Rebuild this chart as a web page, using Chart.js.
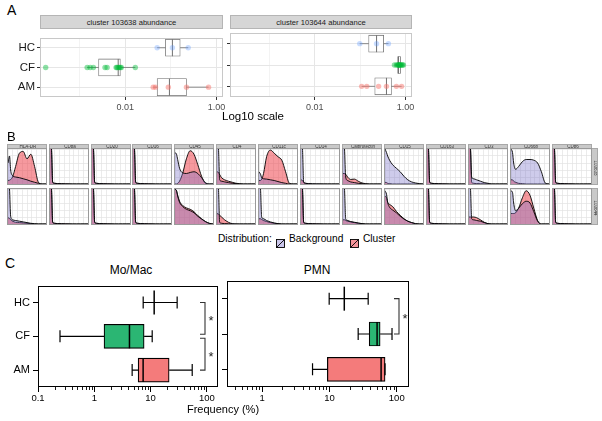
<!DOCTYPE html>
<html><head><meta charset="utf-8">
<script src="https://cdn.jsdelivr.net/npm/chart.js@4.4.0/dist/chart.umd.min.js"></script>
<style>
html,body{margin:0;padding:0;}
body{width:602px;height:421px;background:#fff;position:relative;overflow:hidden;font-family:"Liberation Sans",Arial,Helvetica,sans-serif;}
canvas{display:block;}
</style></head><body>
<script>
// ---------------- DATA ----------------
const groups = ['HC', 'CF', 'AM'];

// Panel A (abundance, log10 scale)
const aStripTitles = ['cluster 103638 abundance', 'cluster 103644 abundance'];
const aTickValues = [0.01, 1];
const aTickLabels = ['0.01', '1.00'];
const aMinorGrid = [0.001, 0.1];
const a1HC = [0.05, 0.108, 0.24];
const a1CF = [0.00018, 0.00146, 0.0017, 0.0020, 0.0036, 0.0040, 0.0063, 0.0066, 0.0070, 0.0074, 0.0078, 0.0082, 0.0166];
const a1AM = [0.041, 0.046, 0.088, 0.22, 0.67];
const a1Stats = [[0.05, 0.076, 0.108, 0.16, 0.24], [0.00146, 0.0026, 0.0070, 0.0078, 0.0166], [0.041, 0.05, 0.093, 0.22, 0.67]];
const a2HC = [0.098, 0.23, 0.42];
const a2CF = [0.57, 0.63, 0.67, 0.70, 0.72, 0.74, 0.76, 0.78, 0.82, 0.86, 0.9];
const a2AM = [0.108, 0.14, 0.255, 0.38, 0.63, 0.82];
const a2Stats = [[0.098, 0.154, 0.23, 0.33, 0.42], [0.57, 0.67, 0.70, 0.78, 0.9], [0.108, 0.21, 0.38, 0.49, 0.82]];

// Panel B (marker densities)
const bMarkers = ['HLA-DR', 'CD8a', 'CD20', 'CD16', 'CD45', 'CD4', 'CD11c', 'CD14', 'Calprotectin', 'CD15', 'CD163', 'CD3', 'CD66b', 'CD86'];
const bRows = ['103638', '103644'];
const bGrid = [0, 0.04, 0.07, 0.12, 0.2, 0.3, 0.4, 0.5, 0.6, 0.7, 0.8, 0.9, 1];
const SPIKE = [1.3, 1.0, 0.05, 0.02, 0.012, 0.008, 0.004, 0.002, 0, 0, 0, 0, 0];
const b1Bg = [
  [0.6, 0.8, 0.4, 0.24, 0.2, 0.18, 0.15, 0.12, 0.08, 0.05, 0.02, 0, 0],
  SPIKE, SPIKE, SPIKE,
  [0.9, 0.85, 0.7, 0.45, 0.32, 0.3, 0.33, 0.35, 0.3, 0.18, 0.04, 0, 0],
  [1.3, 1.0, 0.12, 0.08, 0.06, 0.04, 0.02, 0.01, 0, 0, 0, 0, 0],
  [0.35, 0.28, 0.18, 0.15, 0.14, 0.12, 0.1, 0.07, 0.04, 0.02, 0, 0, 0],
  SPIKE,
  [1.3, 1.0, 0.2, 0.1, 0.06, 0.04, 0.02, 0.01, 0, 0, 0, 0, 0],
  [1.0, 0.9, 0.8, 0.68, 0.55, 0.45, 0.35, 0.22, 0.12, 0.06, 0.03, 0.01, 0],
  SPIKE,
  [1.3, 1.0, 0.2, 0.15, 0.12, 0.08, 0.04, 0.02, 0, 0, 0, 0, 0],
  [1.0, 0.9, 0.6, 0.42, 0.5, 0.64, 0.7, 0.7, 0.68, 0.6, 0.35, 0.03, 0],
  SPIKE];
const b1Cl = [
  [0.1, 0.11, 0.13, 0.2, 0.5, 0.88, 0.93, 0.72, 0.85, 0.5, 0.05, 0, 0],
  SPIKE, SPIKE, SPIKE,
  [0, 0, 0.02, 0.08, 0.3, 0.72, 0.95, 0.85, 0.55, 0.22, 0.02, 0, 0],
  [0.35, 0.33, 0.27, 0.18, 0.12, 0.08, 0.05, 0.02, 0.01, 0, 0, 0, 0],
  [0.1, 0.1, 0.14, 0.3, 0.78, 0.97, 0.88, 0.78, 0.68, 0.35, 0.02, 0, 0],
  [0.12, 0.1, 0.05, 0.02, 0.01, 0, 0, 0, 0, 0, 0, 0, 0],
  [0.3, 0.3, 0.28, 0.2, 0.13, 0.14, 0.08, 0.03, 0.01, 0, 0, 0, 0],
  [0.05, 0.04, 0.02, 0.01, 0, 0, 0, 0, 0, 0, 0, 0, 0],
  SPIKE, SPIKE,
  [0.12, 0.12, 0.08, 0.05, 0.02, 0.01, 0, 0, 0, 0, 0, 0, 0],
  SPIKE];
const b2Bg = [
  [1.3, 1.0, 0.22, 0.12, 0.1, 0.08, 0.06, 0.04, 0.02, 0.01, 0, 0, 0],
  SPIKE, SPIKE, SPIKE,
  [1.0, 0.95, 0.8, 0.62, 0.5, 0.42, 0.38, 0.32, 0.22, 0.14, 0.07, 0.02, 0],
  SPIKE,
  [1.3, 1.0, 0.2, 0.15, 0.1, 0.06, 0.03, 0.01, 0, 0, 0, 0, 0],
  SPIKE,
  [1.3, 1.0, 0.15, 0.1, 0.07, 0.05, 0.03, 0.01, 0, 0, 0, 0, 0],
  [0.95, 0.85, 0.62, 0.48, 0.4, 0.32, 0.22, 0.14, 0.08, 0.04, 0.01, 0, 0],
  SPIKE,
  [1.3, 1.0, 0.15, 0.12, 0.1, 0.08, 0.04, 0.01, 0, 0, 0, 0, 0],
  [0.95, 0.9, 0.6, 0.38, 0.45, 0.58, 0.65, 0.6, 0.35, 0.08, 0, 0, 0],
  SPIKE];
const b2Cl = [
  [0.18, 0.16, 0.12, 0.08, 0.05, 0.04, 0.03, 0.02, 0.01, 0, 0, 0, 0],
  SPIKE, SPIKE, SPIKE,
  [1.0, 0.95, 0.82, 0.65, 0.53, 0.46, 0.42, 0.35, 0.24, 0.15, 0.07, 0.02, 0],
  [0.3, 0.28, 0.25, 0.2, 0.12, 0.05, 0.01, 0, 0, 0, 0, 0, 0],
  [0.15, 0.15, 0.13, 0.1, 0.07, 0.04, 0.02, 0.01, 0, 0, 0, 0, 0],
  SPIKE,
  [0.12, 0.12, 0.1, 0.08, 0.06, 0.04, 0.02, 0.01, 0, 0, 0, 0, 0],
  [0.8, 0.75, 0.62, 0.56, 0.5, 0.36, 0.25, 0.15, 0.08, 0.04, 0.01, 0, 0],
  SPIKE,
  [0.2, 0.2, 0.2, 0.2, 0.18, 0.12, 0.05, 0.01, 0, 0, 0, 0, 0],
  [0.3, 0.3, 0.3, 0.32, 0.45, 0.75, 0.95, 0.82, 0.45, 0.1, 0, 0, 0],
  SPIKE];
const bLegend = ['Background', 'Cluster'];

// Panel C (frequency %, boxplots: [min, q1, median, q3, max])
const cTitles = ['Mo/Mac', 'PMN'];
const cTickValues = [0.1, 1, 10, 100];
const cTickLabels = ['0.1', '1', '10', '100'];
const cMoMacStats = [[7.4, 11.6, 11.6, 11.6, 29.7], [0.246, 1.49, 4.22, 7.69, 10.7], [4.71, 6.01, 7.38, 21.4, 55]];
const cPMNStats = [[9.9, 16.6, 16.6, 16.6, 37.6], [26.7, 38.9, 51, 56.6, 85], [5.6, 9.3, 58.5, 67, 67]];
const cMoMacSig = [['HC', 'CF'], ['CF', 'AM']];
const cPMNSig = [['HC', 'CF']];

// ---------------- STYLE / HELPERS ----------------
const FONT = '"Liberation Sans", Arial, Helvetica, sans-serif';
Chart.defaults.font.family = FONT;
const aPointColors = ['rgba(97,156,255,0.35)', 'rgba(0,186,56,0.45)', 'rgba(248,118,109,0.5)'];
const cFill = ['rgba(0,0,0,0)', '#2bb673', '#f47b7b'];
const bgFill = 'rgba(120,110,200,0.36)';
const clFill = 'rgba(238,70,78,0.55)';

function txt(s, left, top, size, opts) {
  opts = opts || {};
  const d = document.createElement('div');
  d.textContent = s;
  d.style.cssText = 'position:absolute;left:' + left + 'px;top:' + top + 'px;font-size:' + size + 'px;line-height:1;white-space:nowrap;color:' + (opts.color || '#000') + ';' + (opts.center ? 'transform:translateX(-50%);' : '') + (opts.extra || '');
  document.body.appendChild(d);
  return d;
}
function box(left, top, w, h, css) {
  const d = document.createElement('div');
  d.style.cssText = 'position:absolute;box-sizing:border-box;left:' + left + 'px;top:' + top + 'px;width:' + w + 'px;height:' + h + 'px;' + (css || '');
  document.body.appendChild(d);
  return d;
}
function mkCanvas(left, top, w, h, parent) {
  const c = document.createElement('canvas');
  c.width = w; c.height = h;
  c.style.cssText = 'position:absolute;left:' + left + 'px;top:' + top + 'px;width:' + w + 'px;height:' + h + 'px;';
  (parent || document.body).appendChild(c);
  return c;
}

const framePlugin = {
  id: 'frame',
  afterDraw(chart, args, o) {
    const a = chart.chartArea, ctx = chart.ctx;
    ctx.save();
    ctx.strokeStyle = o.color; ctx.lineWidth = o.lw;
    const l = Math.round(a.left) + 0.5, t = Math.round(a.top) + 0.5;
    ctx.strokeRect(l, t, Math.round(a.right) - Math.round(a.left) - 1, Math.round(a.bottom) - Math.round(a.top) - 1);
    ctx.restore();
  }
};

const boxExtras = {
  id: 'boxExtras',
  afterDatasetDraw(chart, args, o) {
    if (args.meta.type !== 'bar') return;
    const xs = chart.scales.x, ys = chart.scales.y, ctx = chart.ctx;
    ctx.save();
    ctx.strokeStyle = o.color;
    o.stats.forEach((s, i) => {
      const y = ys.getPixelForValue(i);
      const px = s.map(v => xs.getPixelForValue(v));
      ctx.lineWidth = o.lw;
      ctx.beginPath();
      ctx.moveTo(px[0], y); ctx.lineTo(px[1], y);
      ctx.moveTo(px[3], y); ctx.lineTo(px[4], y);
      if (o.cap) {
        ctx.moveTo(px[0], y - o.cap); ctx.lineTo(px[0], y + o.cap);
        ctx.moveTo(px[4], y - o.cap); ctx.lineTo(px[4], y + o.cap);
      }
      ctx.stroke();
      ctx.lineWidth = o.medLw;
      ctx.beginPath();
      ctx.moveTo(px[2], y - o.half); ctx.lineTo(px[2], y + o.half);
      ctx.stroke();
    });
    ctx.restore();
  }
};

const minorTicks = {
  id: 'minorTicks',
  afterDraw(chart, args, o) {
    const xs = chart.scales.x, a = chart.chartArea, ctx = chart.ctx;
    ctx.save();
    ctx.strokeStyle = '#000'; ctx.lineWidth = 0.9;
    ctx.beginPath();
    xs.ticks.forEach(t => {
      if (cTickValues.indexOf(t.value) >= 0) return;
      const x = Math.round(xs.getPixelForValue(t.value)) + 0.5;
      ctx.moveTo(x, a.bottom); ctx.lineTo(x, a.bottom + o.len);
    });
    ctx.stroke();
    ctx.restore();
  }
};

const sigPlugin = {
  id: 'sig',
  afterDraw(chart, args, o) {
    const ys = chart.scales.y, a = chart.chartArea, ctx = chart.ctx;
    ctx.save();
    ctx.strokeStyle = '#333'; ctx.lineWidth = 1.1; ctx.fillStyle = '#222';
    ctx.font = '13px ' + FONT; ctx.textAlign = 'center'; ctx.textBaseline = 'middle';
    const x = a.right - o.inset;
    o.pairs.forEach((p, k) => {
      const y1 = ys.getPixelForValue(groups.indexOf(p[0])) + o.gaps[k][0];
      const y2 = ys.getPixelForValue(groups.indexOf(p[1])) + o.gaps[k][1];
      ctx.beginPath();
      ctx.moveTo(x - 5, y1); ctx.lineTo(x, y1); ctx.lineTo(x, y2); ctx.lineTo(x - 5, y2);
      ctx.stroke();
      ctx.fillText('*', x + 6, (y1 + y2) / 2 + 3);
    });
    ctx.restore();
  }
};

// ---------------- PANEL A ----------------
const A_MIN = 0.000135, A_MAX = 1.39;
function panelA(left, top, w, h, yW, padR, pts, stats, showY) {
  const c = mkCanvas(left, top, w, h);
  const allGrid = aMinorGrid.concat(aTickValues).sort((p, q) => p - q);
  new Chart(c, {
    type: 'bar',
    data: {
      labels: groups,
      datasets: pts.map((arr, i) => ({
        type: 'scatter', order: 0,
        data: arr.map(v => ({x: v, y: groups[i]})),
        backgroundColor: aPointColors[i], borderWidth: 0, pointRadius: 2.7
      })).concat([{
        type: 'bar', order: 10,
        data: stats.map(s => [s[1], s[3]]),
        backgroundColor: '#fff', borderColor: '#707070', borderWidth: 0.8,
        borderSkipped: false, barThickness: 17
      }])
    },
    options: {
      indexAxis: 'y', responsive: false, animation: false, devicePixelRatio: 1, events: [],
      layout: {padding: {top: 0, right: padR, bottom: 0, left: 0}},
      plugins: {
        legend: {display: false}, tooltip: {enabled: false},
        boxExtras: {stats: stats, color: '#707070', lw: 0.8, medLw: 1, half: 8.5, cap: 0},
        frame: {color: '#c8c8c8', lw: 1}
      },
      scales: {
        x: {
          type: 'logarithmic', min: A_MIN, max: A_MAX,
          afterBuildTicks: s => { s.ticks = allGrid.map(v => ({value: v})); },
          ticks: {autoSkip: false, maxRotation: 0, minRotation: 0, padding: 2, color: '#4d4d4d', font: {size: 9},
            callback: v => { const k = aTickValues.indexOf(v); return k < 0 ? '' : aTickLabels[k]; }},
          grid: {
            color: ctx => (ctx.tick && aTickValues.indexOf(ctx.tick.value) >= 0) ? '#e6e6e6' : '#f3f3f3',
            tickColor: ctx => (ctx.tick && aTickValues.indexOf(ctx.tick.value) >= 0) ? '#333' : 'rgba(0,0,0,0)',
            tickLength: 3, lineWidth: 1
          },
          border: {display: false},
          afterFit: s => { s.height = 18; }
        },
        y: {
          type: 'category', offset: true,
          grid: {offset: false, color: '#e6e6e6', tickColor: '#333', tickLength: 3},
          border: {display: false},
          ticks: {display: showY, color: '#1a1a1a', font: {size: 11.5}, padding: 2},
          afterFit: s => { s.width = yW; }
        }
      }
    },
    plugins: [boxExtras, framePlugin]
  });
}

txt('A', 7, 3, 14);
box(40, 15, 183, 14, 'background:#d6d6d6;border:1px solid #b5b5b5;');
box(230, 15, 182, 14, 'background:#d6d6d6;border:1px solid #b5b5b5;');
txt(aStripTitles[0], 131.5, 18.5, 7.6, {center: true, color: '#1a1a1a'});
txt(aStripTitles[1], 321, 18.5, 7.6, {center: true, color: '#1a1a1a'});
panelA(0, 29, 230, 86, 40, 7, [a1HC, a1CF, a1AM], a1Stats, true);
panelA(226, 29, 192, 86, 4, 6, [a2HC, a2CF, a2AM], a2Stats, false);
txt('Log10 scale', 222, 111, 11.5);

// ---------------- PANEL B ----------------
txt('B', 7, 130, 13);
const bRowTop = [148, 188];
const bColLeft = i => 6.7 + 41.92 * i;
const bRowData = [[b1Bg, b1Cl], [b2Bg, b2Cl]];
bMarkers.forEach((m, i) => {
  const left = Math.round(bColLeft(i));
  const st = box(left, 144, 40, 5, 'background:#c9c9c9;border:1px solid #a8a8a8;border-bottom:none;overflow:hidden;');
  const t = txt(m, 20, 0, 4.5, {center: true, color: '#333'});
  st.appendChild(t);
  t.style.top = '0px'; t.style.lineHeight = '4px';
  bRows.forEach((r, ri) => {
    const wrap = box(left, bRowTop[ri], 40, 37, 'border:1px solid #9a9a9a;background:#fff;');
    const c = mkCanvas(0, 0, 38, 35, wrap);
    const bg = bRowData[ri][0][i], cl = bRowData[ri][1][i];
    new Chart(c, {
      type: 'line',
      data: {datasets: [
        {data: bGrid.map((x, k) => ({x: x, y: bg[k]})), borderColor: '#000', borderWidth: 0.9, backgroundColor: bgFill, fill: 'origin', pointRadius: 0, cubicInterpolationMode: 'monotone'},
        {data: bGrid.map((x, k) => ({x: x, y: cl[k]})), borderColor: '#000', borderWidth: 0.9, backgroundColor: clFill, fill: 'origin', pointRadius: 0, cubicInterpolationMode: 'monotone'}
      ]},
      options: {
        responsive: false, animation: false, devicePixelRatio: 1, events: [],
        layout: {padding: 0},
        plugins: {legend: {display: false}, tooltip: {enabled: false}},
        scales: {
          x: {type: 'linear', min: 0, max: 1, ticks: {display: false, stepSize: 0.125}, grid: {color: '#e2e2e2', lineWidth: 0.7, drawTicks: false}, border: {display: false}, afterFit: s => { s.height = 0; }},
          y: {type: 'linear', min: 0, max: 1, ticks: {display: false, stepSize: 0.2}, grid: {color: '#e2e2e2', lineWidth: 0.7, drawTicks: false}, border: {display: false}, afterFit: s => { s.width = 0; }}
        }
      }
    });
  });
});
bRows.forEach((r, ri) => {
  const st = box(592, bRowTop[ri], 6, 37, 'background:#c9c9c9;border:1px solid #a8a8a8;border-left:none;overflow:hidden;');
  const t = txt(r, 3, 18.5, 4.5, {color: '#333', extra: 'transform:translate(-50%,-50%) rotate(90deg);'});
  st.appendChild(t);
});
// legend
txt('Distribution:', 218, 234, 10.2);
function legendKey(left, fill) {
  const d = document.createElement('div');
  d.style.cssText = 'position:absolute;left:' + left + 'px;top:234px;width:9px;height:9px;';
  d.innerHTML = '<svg width="9" height="9" xmlns="http://www.w3.org/2000/svg"><rect x="0.5" y="0.5" width="8" height="8" fill="' + fill + '" stroke="#000" stroke-width="0.9"/><line x1="0.5" y1="8.5" x2="8.5" y2="0.5" stroke="#000" stroke-width="0.9"/></svg>';
  document.body.appendChild(d);
}
legendKey(276, '#cbc7ec');
txt(bLegend[0], 289, 234, 10.2);
legendKey(350, '#f4949a');
txt(bLegend[1], 363, 234, 10.2);

// ---------------- PANEL C ----------------
function cTicks(min, max) {
  const out = [];
  [0.1, 1, 10, 100].forEach(d => { for (let m = 1; m <= 9; m++) { const v = +(d * m).toPrecision(3); if (v >= min && v <= max) out.push(v); } });
  return out;
}
function panelC(left, top, w, h, yW, padR, min, max, stats, showY, pairs, sigOpts) {
  const c = mkCanvas(left, top, w, h);
  new Chart(c, {
    type: 'bar',
    data: {labels: groups, datasets: [{
      data: stats.map(s => [s[1], s[3]]),
      backgroundColor: cFill, borderColor: '#000', borderWidth: 1.2, borderSkipped: false, barThickness: 24
    }]},
    options: {
      indexAxis: 'y', responsive: false, animation: false, devicePixelRatio: 1, events: [],
      layout: {padding: {top: 5, right: padR, bottom: 0, left: 0}},
      plugins: {
        legend: {display: false}, tooltip: {enabled: false},
        boxExtras: {stats: stats, color: '#000', lw: 1.2, medLw: 1.5, half: 12, cap: 6},
        frame: {color: '#000', lw: 1},
        minorTicks: {len: 3},
        sig: Object.assign({pairs: pairs}, sigOpts)
      },
      scales: {
        x: {
          type: 'logarithmic', min: min, max: max,
          afterBuildTicks: s => { s.ticks = cTicks(min, max).map(v => ({value: v})); },
          ticks: {autoSkip: false, maxRotation: 0, minRotation: 0, padding: 1, color: '#000', font: {size: 9.5},
            callback: v => { const k = cTickValues.indexOf(v); return k < 0 ? '' : cTickLabels[k]; }},
          grid: {drawOnChartArea: false, tickLength: 5, tickWidth: 1,
            tickColor: ctx => (ctx.tick && cTickValues.indexOf(ctx.tick.value) >= 0) ? '#000' : 'rgba(0,0,0,0)'},
          border: {display: false},
          afterFit: s => { s.height = 19; }
        },
        y: {
          type: 'category', offset: true,
          grid: {drawOnChartArea: false, offset: false, tickColor: '#000', tickLength: 5},
          border: {display: false},
          ticks: {display: showY, color: '#000', font: {size: 11}, padding: 3},
          afterFit: s => { s.width = yW; }
        }
      }
    },
    plugins: [boxExtras, framePlugin, minorTicks, sigPlugin]
  });
}
txt('C', 5, 256, 14);
txt(cTitles[0], 131, 264, 12, {center: true});
txt(cTitles[1], 317, 264, 12, {center: true});
panelC(0, 276, 222, 130, 38, 4, 0.1, 158, cMoMacStats, true, cMoMacSig, {inset: 13, gaps: [[0, -2], [2, 0]]});
panelC(214, 276, 199, 130, 13, 4, 0.306, 152, cPMNStats, false, cPMNSig, {inset: 10, gaps: [[0, 0]]});
txt('Frequency (%)', 223, 404, 11, {center: true});
</script>
</body></html>
